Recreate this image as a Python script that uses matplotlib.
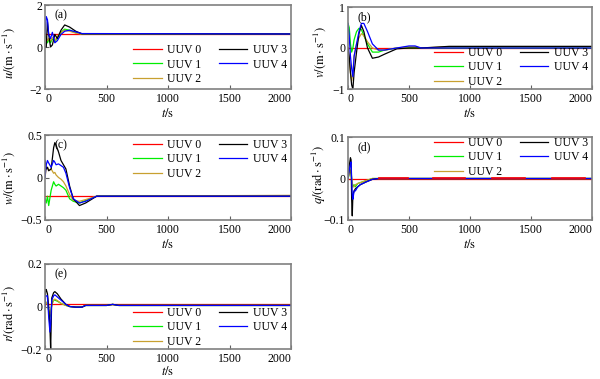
import matplotlib
matplotlib.use("Agg")
import matplotlib.pyplot as plt

plt.rcParams['font.family'] = ['Liberation Serif', 'DejaVu Serif']
plt.rcParams['mathtext.fontset'] = 'stix'

labels = ['UUV 0', 'UUV 1', 'UUV 2', 'UUV 3', 'UUV 4']
colors = ['#ff0000', '#00ee00', '#c8a030', '#000000', '#0000ff']
x_ticks = [0, 500, 1000, 1500, 2000]

# ---- (a) u ----
t_u = [0, 10, 20, 30, 45, 60, 80, 100, 130, 160, 200, 250, 300, 2000]
u0 = [0.62] * 14
u1 = [0.62, 0.4, 0.2, 0.35, 0.2, 0.4, 0.25, 0.45, 0.7, 0.85, 0.8, 0.68, 0.62, 0.62]
u2 = [0.62, 0.5, 0.3, 0.4, 0.3, 0.45, 0.3, 0.5, 0.7, 0.8, 0.75, 0.66, 0.62, 0.62]
u3 = [0.0, 0.0, 1.2, 0.6, 0.0, 0.1, 0.6, 0.4, 0.8, 1.05, 0.95, 0.75, 0.63, 0.62]
u4 = [0.62, 1.45, 1.3, 0.6, 0.4, 0.7, 0.2, 0.3, 0.6, 0.75, 0.8, 0.72, 0.64, 0.62]

# ---- (b) v ----
t_v = [0, 10, 20, 30, 40, 50, 70, 90, 110, 130, 160, 200, 250, 300, 400, 500, 550, 600, 830, 2000]
v0 = [0.0] * 20
v1 = [0.6, 0.5, 0.1, -0.1, 0.0, 0.2, 0.4, 0.48, 0.45, 0.3, 0.1, -0.1, -0.1, -0.05, 0.0, 0.0, 0.0, 0.0, 0.0, 0.0]
v2 = [0.0, -0.3, -0.6, -0.8, -0.6, -0.2, 0.1, 0.25, 0.35, 0.3, 0.15, 0.0, -0.05, -0.05, 0.0, 0.03, 0.03, 0.0, 0.03, 0.03]
v3 = [0.0, -0.2, -0.6, -0.9, -1.0, -0.6, -0.1, 0.35, 0.55, 0.4, 0.0, -0.25, -0.22, -0.15, -0.02, 0.0, 0.0, 0.0, 0.04, 0.04]
v4 = [0.6, 0.3, -0.2, -0.5, -0.7, -0.2, 0.1, 0.4, 0.6, 0.6, 0.4, 0.1, -0.05, -0.05, 0.0, 0.05, 0.05, 0.0, 0.0, 0.0]

# ---- (c) w ----
t_w = [0, 10, 20, 30, 50, 70, 80, 90, 110, 130, 150, 170, 200, 230, 280, 330, 420, 2000]
w0 = [-0.22] * 18
w1 = [-0.25, -0.3, -0.22, -0.33, -0.15, -0.05, -0.08, -0.1, -0.08, -0.1, -0.12, -0.15, -0.25, -0.28, -0.3, -0.27, -0.22, -0.22]
w2 = [0.0, 0.1, 0.12, 0.08, 0.1, 0.05, 0.06, 0.03, 0.0, -0.02, -0.05, -0.1, -0.2, -0.27, -0.28, -0.26, -0.22, -0.21]
w3 = [0.2, 0.1, 0.12, 0.08, 0.1, 0.35, 0.41, 0.38, 0.3, 0.2, 0.15, 0.1, -0.1, -0.25, -0.33, -0.3, -0.22, -0.22]
w4 = [0.0, 0.15, 0.2, 0.17, 0.12, 0.2, 0.18, 0.15, 0.16, 0.14, 0.12, 0.05, -0.12, -0.25, -0.3, -0.28, -0.22, -0.22]

# ---- (d) q ----
t_q = [0, 10, 20, 25, 30, 35, 40, 50, 60, 80, 100, 150, 200, 250, 2000]
q0 = [0.0] * 15
q1 = [0.0, 0.01, 0.02, 0.015, 0.0, -0.01, -0.02, -0.015, -0.02, -0.012, -0.01, -0.005, 0.0, 0.0, 0.0]
q2 = [0.0, 0.01, 0.02, 0.02, 0.0, -0.01, -0.02, -0.02, -0.015, -0.012, -0.01, -0.005, 0.0, 0.0, 0.0]
q3 = [0.0, 0.03, 0.05, 0.045, -0.05, -0.09, -0.04, -0.03, -0.025, -0.02, -0.015, -0.008, -0.002, 0.0, 0.0]
q4 = [0.0, 0.02, 0.035, 0.04, 0.0, -0.04, -0.05, -0.03, -0.03, -0.02, -0.015, -0.008, -0.002, 0.0, 0.0]
t_q0b = [250, 490, 700, 960, 1180, 1450, 1670, 1940]
q0b = [0.0015] * 8

# ---- (e) r ----
t_r = [0, 5, 10, 20, 30, 40, 46, 55, 70, 80, 100, 130, 170, 200, 250, 300, 330, 500, 550, 600, 2000]
r0 = [0.012] * 21
r1 = [0.02, 0.02, 0.02, 0.01, -0.02, -0.05, -0.03, 0.01, 0.03, 0.03, 0.025, 0.015, 0.005, 0.0, -0.003, -0.003, 0.005, 0.005, 0.01, 0.005, 0.005]
r2 = [0.02, 0.02, 0.02, 0.01, -0.02, -0.04, -0.03, 0.01, 0.03, 0.035, 0.028, 0.015, 0.005, 0.0, -0.003, -0.003, 0.005, 0.005, 0.008, 0.005, 0.005]
r3 = [0.0, 0.08, 0.08, 0.06, 0.0, -0.1, -0.2, 0.04, 0.065, 0.07, 0.06, 0.035, 0.01, 0.0, -0.003, -0.003, 0.005, 0.005, 0.01, 0.005, 0.005]
r4 = [0.0, 0.05, 0.05, 0.05, -0.05, -0.12, -0.08, 0.03, 0.05, 0.055, 0.045, 0.03, 0.01, 0.0, -0.003, -0.003, 0.005, 0.005, 0.01, 0.005, 0.005]

fig = plt.figure(figsize=(6.0, 3.79), dpi=100)

W, H = 600.0, 379.0
def box(l, t, r, b):
    return [l / W, 1 - b / H, (r - l) / W, (b - t) / H]

panels = [
    dict(rect=box(45, 5, 291, 89), t=t_u, ys=[u0, u1, u2, u3, u4], lim=(-2, 2),
         ticks=[-2, 0, 2], tl=['−2', '0', '2'], lab=r'$u/(\mathrm{m\cdot s^{-1}})$', tag='(a)',
         loc='lower right', anchor=(1.0, 0.0), lc=(-0.112, 0.43)),
    dict(rect=box(348, 7, 592, 89), t=t_v, ys=[v0, v1, v2, v3, v4], lim=(-1, 1),
         ticks=[-1, 0, 1], tl=['−1', '0', '1'], lab=r'$v/(\mathrm{m\cdot s^{-1}})$', tag='(b)',
         loc='lower right', anchor=(1.0, -0.035), lc=(-0.084, 0.45)),
    dict(rect=box(45, 135, 291, 220), t=t_w, ys=[w0, w1, w2, w3, w4], lim=(-0.5, 0.5),
         ticks=[-0.5, 0, 0.5], tl=['−0.5', '0', '0.5'], lab=r'$w/(\mathrm{m\cdot s^{-1}})$', tag='(c)',
         loc='upper right', anchor=(1.0, 1.0), lc=(-0.112, 0.5)),
    dict(rect=box(348, 137, 592, 220), t=t_q, ys=[q0, q1, q2, q3, q4], lim=(-0.1, 0.1),
         ticks=[-0.1, 0, 0.1], tl=['−0.1', '0', '0.1'], lab=r'$q/(\mathrm{rad\cdot s^{-1}})$', tag='(d)',
         loc='upper right', anchor=(1.0, 1.05), lc=(-0.084, 0.55)),
    dict(rect=box(45, 264, 291, 349), t=t_r, ys=[r0, r1, r2, r3, r4], lim=(-0.2, 0.2),
         ticks=[-0.2, 0, 0.2], tl=['−0.2', '0', '0.2'], lab=r'$r/(\mathrm{rad\cdot s^{-1}})$', tag='(e)',
         loc='lower right', anchor=(1.0, -0.035), lc=(-0.112, 0.42)),
]

tfs = 8.5
for i, p in enumerate(panels):
    ax = fig.add_axes(p['rect'])
    for k in range(5):
        ax.plot(p['t'], p['ys'][k], color=colors[k], lw=0.9, label=labels[k])
    if i == 3:
        for j in range(0, len(t_q0b), 2):
            ax.plot(t_q0b[j:j + 2], q0b[j:j + 2], color=colors[0], lw=1.2)
    ax.set_xlim(0, 2000)
    ax.set_ylim(*p['lim'])
    ax.set_xticks(x_ticks)
    ax.set_xticklabels([str(v) for v in x_ticks])
    xl = ax.get_xticklabels()
    xl[0].set_horizontalalignment('left')
    xl[-1].set_horizontalalignment('right')
    ax.set_yticks(p['ticks'])
    ax.set_yticklabels(p['tl'])
    ax.tick_params(direction='in', labelsize=tfs, length=3, width=0.8, colors='#606060',
                   labelcolor='black', pad=2)
    ax.tick_params(axis='x', pad=3)
    for s in ax.spines.values():
        s.set_color('#808080')
        s.set_linewidth(1.2)
    ax.set_xlabel(r'$t/\mathrm{s}$', fontsize=9, labelpad=1 if i < 4 else 0)
    ax.set_ylabel(p['lab'], fontsize=9)
    ax.yaxis.set_label_coords(*p['lc'])
    ax.text(0.04, 0.95, p['tag'], transform=ax.transAxes, fontsize=8.5, va='top', ha='left')
    ax.legend(loc=p['loc'], bbox_to_anchor=p['anchor'], ncol=2, frameon=False, fontsize=8.5,
              handlelength=2.4, handletextpad=0.45, columnspacing=1.5, labelspacing=0.2,
              borderaxespad=0.25, borderpad=0.1)

fig.savefig('out.png', dpi=100)
